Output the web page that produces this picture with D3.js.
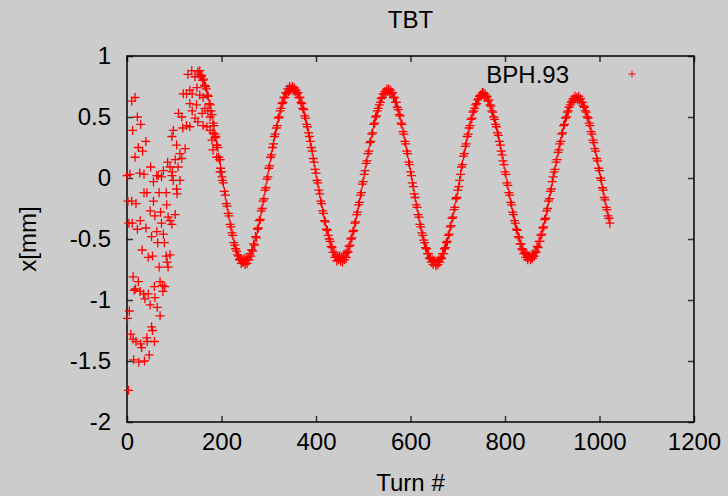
<!DOCTYPE html>
<meta charset="utf-8">

<!-- Load d3.js -->
<script src="https://d3js.org/d3.v7.min.js"></script>

<style>
    body { margin: 0; background: #cccccc; }
    text { font-family: "Liberation Sans", Arial, sans-serif; }
</style>

<!-- Create a div where the graph will take place -->
<div id="my_dataviz"></div>

<script>

    // scattered turns at the start (turn #, x[mm])
    var earlyTurn = [0,1,2,3,4,5,6,8,10,10, 11,12,13,13,14,15,17,17,18,19,
        19,22,22,24,24,25,27,28,28,29, 29,31,32,33,35,36,36,37,38,40,
        40,42,42,43,45,45,47,49,49,50, 52,52,54,54,56,56,58,58,59,59,
        63,63,64,65,66,68,68,70,70,71, 73,73,75,76,77,77,79,80,83,83,
        84,85,86,87,87,91,91,91,95,95, 95,96,98,98,102,102,105,105,106,108,
        109,112,112,116,116,118,119,123,126,126, 129,133,133,133,137,138,138,144,144,147,
        148,150,154,159,161,161,165,169,171,176, 176,180,182,182,186,190,190,197,197,201];
    var earlyX = [0.02,-1.15,-0.19,-1.74,-0.37,-1.09,0.03,-1.28,0.63,-0.19,
        -0.37,0.39,-0.81,-1.32,-1.49,-0.92,0.66,0.17,-0.91,-0.21,
        -1.34,0.50,-0.42,0.25,-0.85,-1.51,0.04,-0.35,-0.93,0.44,
        -1.36,-1.39,-0.59,0.22,-0.95,0.03,-0.12,-1.50,-0.99,0.30,
        -0.41,-0.12,-1.31,-1.34,-0.65,-0.95,-1.45,-0.27,-1.04,0.09,
        -0.48,-1.22,-0.64,-1.25,-0.03,-0.19,-0.89,-1.34,-0.31,-0.98,
        0.02,-0.44,-1.06,-0.53,0.02,-0.12,-0.73,-0.85,-1.13,-0.28,
        0.01,-0.37,-0.88,-0.93,0.06,-0.46,-0.53,-0.89,-0.12,-0.64,
        -0.22,-0.69,0.13,-0.32,-0.73,0.09,-0.35,-0.63,0.02,0.34,
        -0.38,0.05,0.39,-0.02,0.15,-0.30,0.27,-0.09,-0.13,0.09,
        0.53,0.20,-0.02,0.16,0.50,0.41,0.69,0.24,0.43,0.69,
        0.85,0.72,0.61,0.42,0.88,0.69,0.55,0.83,0.49,0.60,
        0.74,0.46,0.68,0.53,0.66,0.43,0.57,0.42,0.55,0.50,
        0.39,0.31,0.37,0.23,0.33,0.27,0.17,0.15,0.05,0.01];

    // the clean oscillation, one reading every 2 turns from turn 150 to 1022
    var bandStart = 150, bandStep = 2;
    var bandX = [
        0.87,0.85,0.88,0.83,0.84,0.80,0.81,0.76,0.75,0.73,0.68,0.67,0.61,0.60,0.55,0.52,0.45,0.43,0.36,0.34,
        0.27,0.25,0.17,0.15,0.08,0.05,-0.02,-0.04,-0.11,-0.14,-0.21,-0.23,-0.29,-0.31,-0.38,-0.40,-0.45,-0.47,-0.53,-0.55,
        -0.58,-0.60,-0.63,-0.64,-0.67,-0.66,-0.70,-0.68,-0.69,
        -0.66,-0.71,-0.67,-0.70,-0.65,-0.67,-0.62,-0.64,-0.59,-0.60,-0.54,-0.55,-0.48,-0.49,-0.42,-0.41,-0.35,-0.34,-0.27,-0.25,
        -0.19,-0.17,-0.10,-0.08,-0.01,0.01,0.08,0.10,0.17,0.19,0.25,0.28,0.34,0.36,0.41,0.43,0.49,0.50,0.55,0.57,
        0.61,0.62,0.66,0.66,0.70,0.69,0.73,0.71,0.75,0.73,
        0.73,0.75,0.72,0.74,0.71,0.72,0.69,0.70,0.66,0.66,0.62,0.61,0.57,0.56,0.51,0.49,0.44,0.42,0.37,0.34,
        0.30,0.25,0.22,0.16,0.13,0.07,0.04,-0.02,-0.04,-0.10,-0.13,-0.19,-0.21,-0.27,-0.29,-0.35,-0.36,-0.42,-0.43,-0.47,
        -0.50,-0.52,-0.56,-0.57,-0.61,-0.61,-0.65,-0.63,-0.68,-0.65,-0.67,
        -0.64,-0.68,-0.65,-0.69,-0.64,-0.67,-0.62,-0.65,-0.60,-0.61,-0.56,-0.55,-0.50,-0.49,-0.44,-0.43,-0.37,-0.36,-0.30,-0.28,
        -0.22,-0.20,-0.14,-0.12,-0.05,-0.03,0.03,0.06,0.12,0.14,0.20,0.22,0.29,0.30,0.36,0.37,0.44,0.45,0.50,0.51,
        0.55,0.57,0.60,0.62,0.65,0.66,0.69,0.69,0.71,0.70,0.73,
        0.71,0.73,0.70,0.72,0.69,0.70,0.66,0.66,0.62,0.62,0.58,0.56,0.52,0.51,0.45,0.44,0.38,0.36,0.30,0.28,
        0.22,0.20,0.13,0.11,0.05,0.02,-0.04,-0.07,-0.13,-0.16,-0.22,-0.24,-0.30,-0.32,-0.38,-0.40,-0.45,-0.47,-0.51,-0.53,
        -0.57,-0.58,-0.62,-0.62,-0.66,-0.65,-0.69,-0.67,-0.71,-0.68,
        -0.68,-0.72,-0.69,-0.71,-0.67,-0.69,-0.65,-0.66,-0.62,-0.62,-0.58,-0.57,-0.53,-0.52,-0.47,-0.46,-0.40,-0.39,-0.33,-0.32,
        -0.26,-0.24,-0.17,-0.16,-0.10,-0.07,-0.02,0.03,0.09,0.11,0.18,0.20,0.26,0.28,0.34,0.36,0.41,0.43,0.48,0.49,
        0.54,0.55,0.57,0.60,0.61,0.64,0.65,0.67,0.68,0.68,0.70,
        0.70,0.67,0.69,0.66,0.67,0.63,0.64,0.60,0.59,0.55,0.54,0.50,0.48,0.44,0.42,0.37,0.35,0.30,0.27,0.22,
        0.19,0.14,0.11,0.05,0.03,-0.04,-0.06,-0.12,-0.14,-0.20,-0.22,-0.28,-0.30,-0.35,-0.37,-0.42,-0.43,-0.48,-0.49,-0.54,
        -0.54,-0.58,-0.59,-0.62,-0.61,-0.65,-0.63,-0.67,-0.65,
        -0.64,-0.67,-0.65,-0.66,-0.62,-0.64,-0.60,-0.61,-0.56,-0.57,-0.52,-0.52,-0.47,-0.46,-0.41,-0.40,-0.34,-0.33,-0.27,-0.25,
        -0.19,-0.17,-0.11,-0.09,-0.03,0.01,0.05,0.07,0.13,0.15,0.21,0.23,0.28,0.30,0.36,0.37,0.43,0.44,0.49,0.50,
        0.54,0.55,0.58,0.60,0.62,0.63,0.65,0.64,0.67,0.65,
        0.66,0.64,0.67,0.64,0.65,0.62,0.62,0.59,0.58,0.55,0.54,0.50,0.49,0.45,0.43,0.38,0.36,0.31,0.29,0.24,
        0.22,0.16,0.14,0.08,0.06,0.00,-0.02,-0.08,-0.10,-0.16,-0.18,-0.24,-0.26,-0.31,-0.33,-0.37
    ];

    var xTicks = [0, 200, 400, 600, 800, 1000, 1200];
    var yTicks = [-2, -1.5, -1, -0.5, 0, 0.5, 1];
    var seriesName = "BPH.93";

    // set the dimensions and margins of the graph
    var margin = {top: 56, right: 34, bottom: 74, left: 127},
        width = 728 - margin.left - margin.right,
        height = 496 - margin.top - margin.bottom;

    var fontSize = 24;

    var root = d3.select("#my_dataviz")
        .append("svg")
        .attr("width", 728)
        .attr("height", 496)
        .style("display", "block")
        .style("background", "#cccccc");

    var svg = root.append("g")
        .attr("transform", "translate(" + margin.left + "," + margin.top + ")");

    var x = d3.scaleLinear().domain([0, 1200]).range([0, width]);
    var y = d3.scaleLinear().domain([-2, 1]).range([height, 0]);

    var fmt = function(d) { return String(d); };

    // axes, ticks pointing inwards on all four sides
    var gx = svg.append("g")
        .attr("transform", "translate(0," + height + ")")
        .call(d3.axisBottom(x).tickValues(xTicks).tickSize(-6).tickPadding(11).tickFormat(fmt));
    var gxTop = svg.append("g")
        .call(d3.axisTop(x).tickValues(xTicks).tickSize(-6).tickFormat(""));
    var gy = svg.append("g")
        .call(d3.axisLeft(y).tickValues(yTicks).tickSize(-6).tickPadding(16).tickFormat(fmt));
    var gyRight = svg.append("g")
        .attr("transform", "translate(" + width + ",0)")
        .call(d3.axisRight(y).tickValues(yTicks).tickSize(-6).tickFormat(""));

    [gx, gxTop, gy, gyRight].forEach(function(g) {
        g.select(".domain").remove();
        g.selectAll(".tick line").attr("stroke", "#333").attr("stroke-width", 1.5);
        g.selectAll("text")
            .attr("fill", "#000")
            .style("font-size", fontSize + "px")
            .style("font-family", "'Liberation Sans', Arial, sans-serif");
    });

    // frame
    svg.append("rect")
        .attr("x", 0).attr("y", 0)
        .attr("width", width).attr("height", height)
        .attr("fill", "none")
        .attr("stroke", "#000")
        .attr("stroke-width", 1.5);

    // titles
    svg.append("text")
        .attr("x", width / 2).attr("y", -28)
        .attr("text-anchor", "middle")
        .style("font-size", fontSize + "px")
        .text("TBT");

    svg.append("text")
        .attr("x", width / 2).attr("y", height + 69)
        .attr("text-anchor", "middle")
        .style("font-size", fontSize + "px")
        .text("Turn #");

    svg.append("text")
        .attr("transform", "translate(" + (-91) + "," + (height / 2) + ") rotate(-90)")
        .attr("text-anchor", "middle")
        .style("font-size", fontSize + "px")
        .text("x[mm]");

    // build the point list
    var data = [];
    earlyTurn.forEach(function(t, i) { data.push({turn: t, x: earlyX[i]}); });
    bandX.forEach(function(v, i) { data.push({turn: bandStart + i * bandStep, x: v}); });

    var cross = "M-4.5,0H4.5M0,-4.5V4.5";

    svg.append("g")
        .selectAll("path")
        .data(data)
        .enter()
        .append("path")
        .attr("d", cross)
        .attr("transform", function(d) { return "translate(" + x(d.turn) + "," + y(d.x) + ")"; })
        .attr("fill", "none")
        .attr("stroke", "#ff0000")
        .attr("stroke-width", 1.3);

    // legend
    var legend = svg.append("g");
    legend.append("text")
        .attr("x", 442).attr("y", 27)
        .attr("text-anchor", "end")
        .style("font-size", fontSize + "px")
        .text(seriesName);
    legend.append("path")
        .attr("d", "M-3.5,0H3.5M0,-3.5V3.5")
        .attr("transform", "translate(505,18)")
        .attr("fill", "none")
        .attr("stroke", "#ff0000")
        .attr("stroke-width", 1);

</script>
